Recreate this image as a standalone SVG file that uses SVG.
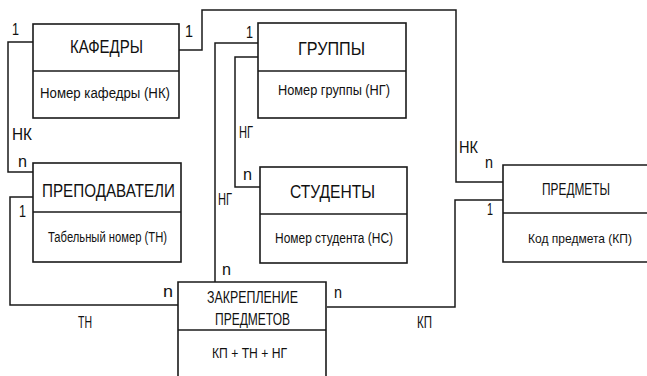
<svg xmlns="http://www.w3.org/2000/svg" width="647" height="376" viewBox="0 0 647 376">
<style>
.box{fill:#fff;stroke:#1a1a1a;stroke-width:1.6}
.div{stroke:#1a1a1a;stroke-width:1.6}
.con{fill:none;stroke:#1a1a1a;stroke-width:1.5}
text{font-family:"Liberation Sans",Arial,sans-serif;fill:#111}
.t{font-size:19px}
.s{font-size:14px}
.l{font-size:16px}
</style>
<rect width="647" height="376" fill="#fff"/>
<g id="connectors">
<path class="con" d="M33,42 H8 V172 H33"/>
<path class="con" d="M33,197 H10 V305 H178"/>
<path class="con" d="M179,50 H202 V10 H456 V182 H503"/>
<path class="con" d="M258,43 H215 V282"/>
<path class="con" d="M258,57 H235 V187 H260"/>
<path class="con" d="M503,200 H455 V307 H327"/>
</g>
<g id="labels">
<text class="l" x="12" y="35" textLength="7" lengthAdjust="spacingAndGlyphs">1</text>
<text class="l" x="185" y="37" textLength="8" lengthAdjust="spacingAndGlyphs">1</text>
<text class="l" x="246" y="38" textLength="7" lengthAdjust="spacingAndGlyphs">1</text>
<text class="l" x="12" y="140" textLength="20" lengthAdjust="spacingAndGlyphs">НК</text>
<text class="l" x="18" y="167" textLength="9" lengthAdjust="spacingAndGlyphs">n</text>
<text class="l" x="19" y="217" textLength="7" lengthAdjust="spacingAndGlyphs">1</text>
<text class="l" x="163" y="297" textLength="10" lengthAdjust="spacingAndGlyphs">n</text>
<text class="l" x="78" y="328" textLength="14" lengthAdjust="spacingAndGlyphs">ТН</text>
<text class="l" x="239" y="138" textLength="14" lengthAdjust="spacingAndGlyphs">НГ</text>
<text class="l" x="243" y="180" textLength="9" lengthAdjust="spacingAndGlyphs">n</text>
<text class="l" x="218" y="205" textLength="14" lengthAdjust="spacingAndGlyphs">НГ</text>
<text class="l" x="222" y="275" textLength="9" lengthAdjust="spacingAndGlyphs">n</text>
<text class="l" x="334" y="298" textLength="8" lengthAdjust="spacingAndGlyphs">n</text>
<text class="l" x="417" y="328" textLength="15" lengthAdjust="spacingAndGlyphs">КП</text>
<text class="l" x="459" y="153" textLength="19" lengthAdjust="spacingAndGlyphs">НК</text>
<text class="l" x="485" y="168" textLength="8" lengthAdjust="spacingAndGlyphs">n</text>
<text class="l" x="487" y="215" textLength="6" lengthAdjust="spacingAndGlyphs">1</text>
</g>
<g id="kafedry">
<rect class="box" x="33" y="24" width="146" height="94"/>
<line class="div" x1="33" y1="71" x2="179" y2="71"/>
<text class="t" x="70" y="53" textLength="73" lengthAdjust="spacingAndGlyphs">КАФЕДРЫ</text>
<text class="s" x="40" y="98" textLength="130" lengthAdjust="spacingAndGlyphs">Номер кафедры (НК)</text>
</g>
<g id="gruppy">
<rect class="box" x="258" y="23" width="148" height="95"/>
<line class="div" x1="258" y1="71" x2="406" y2="71"/>
<text class="t" x="298" y="55" textLength="67" lengthAdjust="spacingAndGlyphs">ГРУППЫ</text>
<text class="s" x="278" y="95" textLength="112" lengthAdjust="spacingAndGlyphs">Номер группы (НГ)</text>
</g>
<g id="prepodavateli">
<rect class="box" x="33" y="163" width="148" height="99"/>
<line class="div" x1="33" y1="212" x2="181" y2="212"/>
<text class="t" x="42" y="197" textLength="133" lengthAdjust="spacingAndGlyphs">ПРЕПОДАВАТЕЛИ</text>
<text class="s" x="48" y="242" textLength="119" lengthAdjust="spacingAndGlyphs">Табельный номер (ТН)</text>
</g>
<g id="studenty">
<rect class="box" x="260" y="167" width="147" height="96"/>
<line class="div" x1="260" y1="214" x2="407" y2="214"/>
<text class="t" x="290" y="198" textLength="85" lengthAdjust="spacingAndGlyphs">СТУДЕНТЫ</text>
<text class="s" x="275" y="243" textLength="118" lengthAdjust="spacingAndGlyphs">Номер студента (НС)</text>
</g>
<g id="predmety">
<path class="box" d="M647,165 H503 V262 H647"/>
<line class="div" x1="503" y1="213" x2="647" y2="213"/>
<text class="t" style="font-size:16px" x="542" y="195" textLength="68" lengthAdjust="spacingAndGlyphs">ПРЕДМЕТЫ</text>
<text class="s" style="font-size:13px" x="528" y="243" textLength="104" lengthAdjust="spacingAndGlyphs">Код предмета (КП)</text>
</g>
<g id="zakreplenie">
<path class="box" d="M178,376 V282 H326 V376"/>
<line class="div" x1="178" y1="330" x2="326" y2="330"/>
<text class="t" style="font-size:17px" x="207" y="303" textLength="91" lengthAdjust="spacingAndGlyphs">ЗАКРЕПЛЕНИЕ</text>
<text class="t" style="font-size:17px" x="215" y="325" textLength="75" lengthAdjust="spacingAndGlyphs">ПРЕДМЕТОВ</text>
<text class="s" x="212" y="358" textLength="75" lengthAdjust="spacingAndGlyphs">КП + ТН + НГ</text>
</g>
</svg>
